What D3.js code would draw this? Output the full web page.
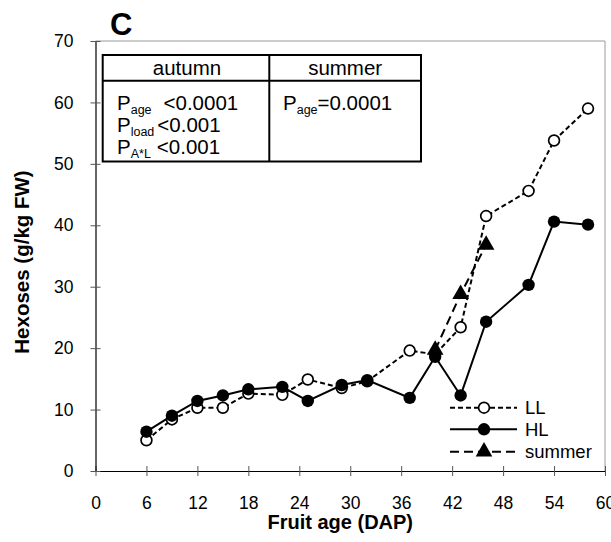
<!DOCTYPE html>
<html>
<head>
<meta charset="utf-8">
<script src="https://cdn.jsdelivr.net/npm/d3@7"></script>
<style>
  html, body { margin: 0; padding: 0; background: #fff; }
  svg { display: block; font-family: "Liberation Sans", Arial, Helvetica, sans-serif; }
</style>
</head>
<body>
<svg id="chart" width="611" height="542"></svg>
<script>
// ---- data ----
const ageDAP   = [6, 9, 12, 15, 18, 22, 25, 29, 32, 37, 40, 43, 46, 51, 54, 58];
const hexLL    = [5.0, 8.4, 10.3, 10.3, 12.6, 12.4, 14.9, 13.5, 14.6, 19.6, 19.0, 23.4, 41.5, 45.6, 53.8, 59.0];
const hexHL    = [6.4, 9.0, 11.4, 12.3, 13.3, 13.7, 11.4, 14.0, 14.8, 11.9, 18.6, 12.3, 24.3, 30.3, 40.6, 40.1];
const ageSummer = [40, 43, 46];
const hexSummer = [19.7, 28.8, 36.8];
const xTicks = [0, 6, 12, 18, 24, 30, 36, 42, 48, 54, 60];
const yTicks = [0, 10, 20, 30, 40, 50, 60, 70];
const legendLabels = ["LL", "HL", "summer"];
const tableHeaders = ["autumn", "summer"];
const autumnStats = [["age", "<0.0001"], ["load", "<0.001"], ["A*L", "<0.001"]];
const summerStats = [["age", "=0.0001"]];

// ---- layout ----
const svg = d3.select("#chart");
const pL = 95.5, pR = 605, pT = 41, pB = 471;
const x = d3.scaleLinear().domain([0, 60]).range([pL, pR]);
const y = d3.scaleLinear().domain([0, 70]).range([pB, pT]);

// frame (top/right in grey)
svg.append("line").attr("x1", pL).attr("x2", pR).attr("y1", pT).attr("y2", pT)
  .attr("stroke", "#9a9a9a").attr("stroke-width", 1);
svg.append("line").attr("x1", pR).attr("x2", pR).attr("y1", pT).attr("y2", pB)
  .attr("stroke", "#9a9a9a").attr("stroke-width", 1);

// axes
const xAxis = svg.append("g").attr("transform", `translate(0,${pB})`)
  .call(d3.axisBottom(x).tickValues(xTicks).tickSize(5).tickPadding(20.5).tickSizeOuter(0));
xAxis.selectAll(".tick line").attr("y1", -5).attr("y2", 5).attr("stroke", "#555");
xAxis.select(".domain").attr("stroke", "#000").attr("stroke-width", 1.2);
xAxis.selectAll("text").attr("font-size", 17.5).attr("font-family", "Liberation Sans, Arial, sans-serif").attr("fill", "#000");

const yAxis = svg.append("g").attr("transform", `translate(${pL},0)`)
  .call(d3.axisLeft(y).tickValues(yTicks).tickSize(5).tickPadding(17).tickSizeOuter(0));
yAxis.selectAll(".tick line").attr("x1", 5).attr("x2", -5).attr("stroke", "#555");
yAxis.select(".domain").attr("stroke", "#000").attr("stroke-width", 1.2);
yAxis.selectAll("text").attr("font-size", 17.5).attr("font-family", "Liberation Sans, Arial, sans-serif").attr("fill", "#000");

// axis titles
svg.append("text").attr("x", (pL + pR) / 2 - 10).attr("y", 529)
  .attr("text-anchor", "middle").attr("font-weight", "bold").attr("font-size", 20)
  .text("Fruit age (DAP)");
svg.append("text").attr("transform", "translate(29,262) rotate(-90)")
  .attr("text-anchor", "middle").attr("font-weight", "bold").attr("font-size", 20.5)
  .text("Hexoses (g/kg FW)");

// panel letter
svg.append("text").attr("x", 110).attr("y", 35).attr("font-weight", "bold").attr("font-size", 31).text("C");

// ---- stats table ----
const tL = 102.7, tR = 421, tT = 55, tH = 80.7, tB = 161.5, tM = 269.3;
const tbl = svg.append("g");
tbl.append("rect").attr("x", tL).attr("y", tT).attr("width", tR - tL).attr("height", tB - tT)
  .attr("fill", "#fff").attr("stroke", "#000").attr("stroke-width", 2);
tbl.append("line").attr("x1", tL).attr("x2", tR).attr("y1", tH).attr("y2", tH).attr("stroke", "#000").attr("stroke-width", 2);
tbl.append("line").attr("x1", tM).attr("x2", tM).attr("y1", tT).attr("y2", tB).attr("stroke", "#000").attr("stroke-width", 2);
tbl.append("text").attr("x", (tL + tM) / 2 + 1).attr("y", 75).attr("text-anchor", "middle").attr("font-size", 20.5).text(tableHeaders[0]);
tbl.append("text").attr("x", (tM + tR) / 2).attr("y", 75).attr("text-anchor", "middle").attr("font-size", 20.5).text(tableHeaders[1]);

function statLine(g, xPos, yPos, sub, rest, gap) {
  const t = g.append("text").attr("x", xPos).attr("y", yPos).attr("font-size", 20.5);
  t.append("tspan").text("P");
  t.append("tspan").attr("font-size", 12.5).attr("dy", 4).text(sub);
  t.append("tspan").attr("dy", -4).attr("dx", gap).text(rest);
}
const autumnGaps = [12, 3, 6];
autumnStats.forEach((s, i) => statLine(tbl, 117, 110 + i * 22, s[0], s[1], autumnGaps[i]));
summerStats.forEach((s, i) => statLine(tbl, 283, 110 + i * 22, s[0], s[1], 0));

// ---- series ----
const lineGen = d3.line().x(d => x(d[0])).y(d => y(d[1]));
const llData = ageDAP.map((a, i) => [a, hexLL[i]]);
const hlData = ageDAP.map((a, i) => [a, hexHL[i]]);
const suData = ageSummer.map((a, i) => [a, hexSummer[i]]);

const dashLL = "5,3", dashSU = "9,5";

svg.append("path").datum(llData).attr("d", lineGen).attr("fill", "none")
  .attr("stroke", "#000").attr("stroke-width", 2).attr("stroke-dasharray", dashLL);
svg.append("path").datum(hlData).attr("d", lineGen).attr("fill", "none")
  .attr("stroke", "#000").attr("stroke-width", 2);
svg.append("path").datum(suData).attr("d", lineGen).attr("fill", "none")
  .attr("stroke", "#000").attr("stroke-width", 2).attr("stroke-dasharray", dashSU);

svg.append("g").selectAll("circle").data(llData).join("circle")
  .attr("cx", d => x(d[0])).attr("cy", d => y(d[1])).attr("r", 5.4)
  .attr("fill", "#fff").attr("stroke", "#000").attr("stroke-width", 1.7);
svg.append("g").selectAll("circle").data(hlData).join("circle")
  .attr("cx", d => x(d[0])).attr("cy", d => y(d[1])).attr("r", 6.2).attr("fill", "#000");
const tri = d3.symbol().type(d3.symbolTriangle).size(120);
svg.append("g").selectAll("path").data(suData).join("path")
  .attr("transform", d => `translate(${x(d[0])},${y(d[1])})`).attr("d", tri).attr("fill", "#000");

// ---- legend ----
const legY = [407.7, 429.3, 451.7];
const lx1 = 450, lx2 = 517, lmx = 484;
const leg = svg.append("g");
leg.append("line").attr("x1", lx1).attr("x2", lx2).attr("y1", legY[0]).attr("y2", legY[0])
  .attr("stroke", "#000").attr("stroke-width", 2).attr("stroke-dasharray", dashLL);
leg.append("circle").attr("cx", lmx).attr("cy", legY[0]).attr("r", 5.4).attr("fill", "#fff").attr("stroke", "#000").attr("stroke-width", 1.7);
leg.append("line").attr("x1", lx1).attr("x2", lx2).attr("y1", legY[1]).attr("y2", legY[1])
  .attr("stroke", "#000").attr("stroke-width", 2);
leg.append("circle").attr("cx", lmx).attr("cy", legY[1]).attr("r", 6.2).attr("fill", "#000");
leg.append("line").attr("x1", lx1).attr("x2", lx2).attr("y1", legY[2]).attr("y2", legY[2])
  .attr("stroke", "#000").attr("stroke-width", 2).attr("stroke-dasharray", dashSU);
leg.append("path").attr("transform", `translate(${lmx},${legY[2]})`).attr("d", tri).attr("fill", "#000");
legendLabels.forEach((lab, i) => {
  leg.append("text").attr("x", 525).attr("y", legY[i] + 6.5).attr("font-size", 18.5).text(lab);
});
</script>
</body>
</html>
